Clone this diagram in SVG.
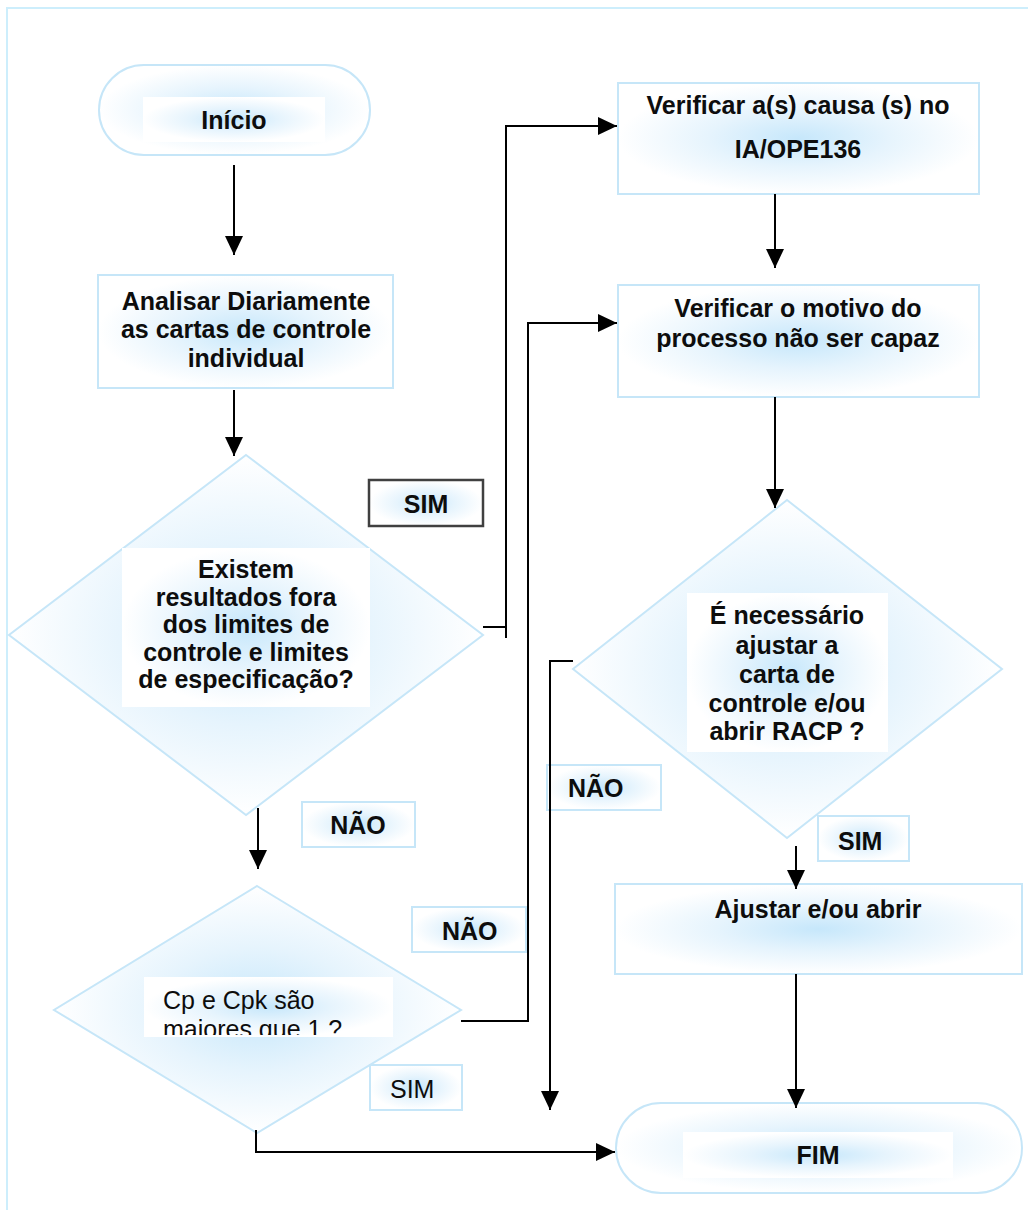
<svg xmlns="http://www.w3.org/2000/svg" width="1028" height="1210" viewBox="0 0 1028 1210">
<defs>
<radialGradient id="g" cx="50%" cy="50%" r="50%">
<stop offset="0" stop-color="#c6e7fb"/>
<stop offset="0.5" stop-color="#e6f4fd"/>
<stop offset="1" stop-color="#ffffff"/>
</radialGradient>
<marker id="ah" markerUnits="userSpaceOnUse" viewBox="0 0 19 18" refX="19" refY="9" markerWidth="19" markerHeight="18" orient="auto">
<path d="M0,0 L19,9 L0,18 z" fill="#000"/>
</marker>
<clipPath id="cp2"><rect x="144" y="977" width="249" height="58"/></clipPath>
</defs>
<style>
.n{fill:url(#g);stroke:#c6e6f8;stroke-width:2}
.in{fill:url(#g);stroke:none}
.t{font-family:"Liberation Sans",Arial,sans-serif;font-size:25px;font-weight:bold;fill:#0d0d0d}
.r{font-family:"Liberation Sans",Arial,sans-serif;font-size:25px;fill:#0d0d0d}
.c{text-anchor:middle}
.e{fill:none;stroke:#000;stroke-width:2}
.a{marker-end:url(#ah)}
</style>
<rect x="7" y="8" width="1040" height="1230" fill="none" stroke="#cdeefc" stroke-width="2"/>

<g id="inicio">
<rect class="n" x="99" y="65" width="271" height="90" rx="45"/>
<rect class="in" x="143" y="97" width="182" height="45"/>
<text class="t c" x="234" y="129">Início</text>
</g>

<g id="analisar">
<rect class="n" x="98" y="275" width="295" height="113"/>
<text class="t c" x="246" y="310">Analisar Diariamente</text>
<text class="t c" x="246" y="338">as cartas de controle</text>
<text class="t c" x="246" y="367">individual</text>
</g>

<g id="decisao1">
<polygon class="n" points="246,455 483,635 246,815 9,635"/>
<rect class="in" x="122" y="548" width="248" height="159"/>
<text class="t c" x="246" y="578">Existem</text>
<text class="t c" x="246" y="606">resultados fora</text>
<text class="t c" x="246" y="633">dos limites de</text>
<text class="t c" x="246" y="661">controle e limites</text>
<text class="t c" x="246" y="688">de especificação?</text>
</g>

<g id="sim1">
<rect x="369" y="480" width="114" height="46" fill="url(#g)" stroke="#404040" stroke-width="2.5"/>
<text class="t c" x="426" y="513">SIM</text>
</g>

<g id="nao1">
<rect class="n" x="302" y="802" width="113" height="45"/>
<text class="t c" x="358" y="834">NÃO</text>
</g>

<g id="decisao2">
<polygon class="n" points="257,886 461,1010 257,1133 54,1010"/>
<rect class="in" x="144" y="977" width="249" height="60"/>
<g clip-path="url(#cp2)">
<text class="r" x="163" y="1009">Cp e Cpk são</text>
<text class="r" x="163" y="1038">maiores que 1 ?</text>
</g>
</g>

<g id="nao2">
<rect class="n" x="412" y="907" width="114" height="45"/>
<text class="t" x="442" y="940">NÃO</text>
</g>

<g id="sim2">
<rect class="n" x="370" y="1065" width="92" height="45"/>
<text class="r" x="390" y="1098">SIM</text>
</g>

<g id="verificar1">
<rect class="n" x="618" y="83" width="361" height="111"/>
<text class="t c" x="798" y="114">Verificar a(s) causa (s) no</text>
<text class="t c" x="798" y="158">IA/OPE136</text>
</g>

<g id="verificar2">
<rect class="n" x="618" y="285" width="361" height="112"/>
<text class="t c" x="798" y="317">Verificar o motivo do</text>
<text class="t c" x="798" y="347">processo não ser capaz</text>
</g>

<g id="decisao3">
<polygon class="n" points="787,500 1002,669 787,838 573,669"/>
<rect class="in" x="687" y="593" width="201" height="159"/>
<text class="t c" x="787" y="624">É necessário</text>
<text class="t c" x="787" y="654">ajustar a</text>
<text class="t c" x="787" y="683">carta de</text>
<text class="t c" x="787" y="712">controle e/ou</text>
<text class="t c" x="787" y="740">abrir RACP ?</text>
</g>

<g id="nao3">
<rect class="n" x="547" y="765" width="114" height="45"/>
<text class="t" x="568" y="797">NÃO</text>
</g>

<g id="sim3">
<rect class="n" x="818" y="816" width="91" height="45"/>
<text class="t" x="838" y="850">SIM</text>
</g>

<g id="ajustar">
<rect class="n" x="615" y="884" width="407" height="90"/>
<text class="t c" x="818" y="918">Ajustar e/ou abrir</text>
</g>

<g id="fim">
<rect class="n" x="616" y="1103" width="406" height="90" rx="45"/>
<rect class="in" x="683" y="1132" width="270" height="46"/>
<text class="t c" x="818" y="1164">FIM</text>
</g>

<g id="connectors">
<path class="e a" d="M234,165 V255"/>
<path class="e a" d="M234,390 V456"/>
<path class="e" d="M483,627 H506"/>
<path class="e a" d="M506,638 V126 H617"/>
<path class="e a" d="M258,808 V869"/>
<path class="e a" d="M461,1021 H528 V323 H617"/>
<path class="e a" d="M256,1130 V1152 H615"/>
<path class="e a" d="M775,194 V268"/>
<path class="e a" d="M775,397 V508"/>
<path class="e a" d="M573,661 H550 V1110"/>
<path class="e a" d="M796,846 V889"/>
<path class="e a" d="M796,974 V1108"/>
</g>
</svg>
